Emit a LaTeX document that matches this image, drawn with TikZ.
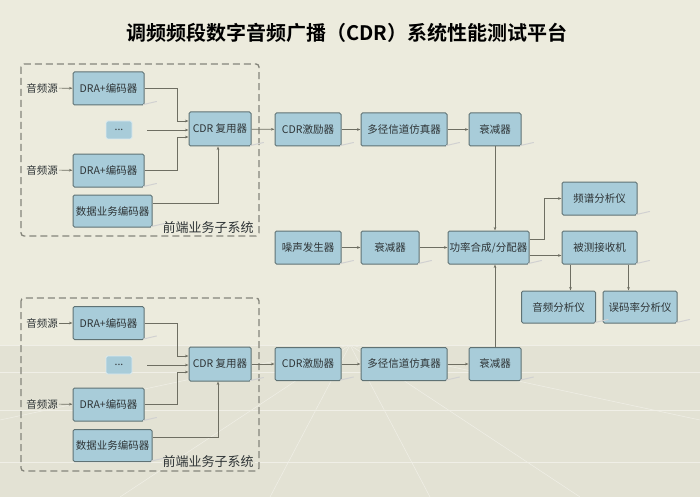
\documentclass[tikz,border=0pt]{standalone}
\usepackage{fontspec}
\setmainfont{Noto Sans CJK SC}
\newfontfamily\cjkbold{Noto Sans CJK SC}[BoldFont={* Bold}]
\usetikzlibrary{arrows.meta,calc}
\definecolor{bgtop}{HTML}{ECEBDD}
\definecolor{bgbot}{HTML}{E3E2D4}
\definecolor{boxfill}{HTML}{A8CCD9}
\definecolor{boxline}{HTML}{5F7274}
\definecolor{conn}{HTML}{6E6E62}
\definecolor{txt}{HTML}{2E3436}
\definecolor{frame}{HTML}{85857B}
\tikzset{
  blk/.style={draw=boxline, line width=1pt, fill=boxfill, rounded corners=1.5pt,
    minimum height=33pt, inner sep=1pt, font=\fontsize{10.5}{12}\selectfont, text=txt},
  srclabel/.style={font=\fontsize{10.5}{12}\selectfont, text=txt, inner sep=1pt},
  link/.style={draw=conn, line width=0.7pt, -{Stealth[length=3.5pt,width=2.6pt]}},
  subframe/.style={draw=frame, line width=1.3pt, dash pattern=on 7pt off 4pt, rounded corners=3pt},
  sublabel/.style={font=\fontsize{13}{15}\selectfont, text=txt, fill=bgtop, inner sep=1pt},
  shadowline/.style={draw=black!18, line width=1pt, line cap=round}
}
\begin{document}
\begin{tikzpicture}[x=1pt,y=-1pt]
\useasboundingbox (0,0) rectangle (700,497);
% background
\fill[bgtop] (0,0) rectangle (700,497);
\fill[bgbot] (0,345) rectangle (700,497);
\begin{scope}[draw=white!45!bgbot, line width=0.5pt]
  \draw (0,345) -- (700,345);
  \draw (0,372) -- (700,372);
  \draw (0,410) -- (700,410);
  \draw (0,462) -- (700,462);
  \draw (350,345) -- (0,420);
  \draw (350,345) -- (700,420);
  \draw (350,345) -- (120,497);
  \draw (350,345) -- (580,497);
  \draw (350,345) -- (270,497);
  \draw (350,345) -- (430,497);
\end{scope}

% title
\node (title) at (347,33) {\cjkbold\bfseries\fontsize{20}{24}\selectfont 调频频段数字音频广播（CDR）系统性能测试平台};

% ===== upper front-end subsystem =====
\draw[subframe] (21,64) rectangle (259,236);
\node[srclabel] (s1) at (42,88) {音频源};
\node[blk, minimum width=71pt] (d1) at (108.5,88.5) {DRA+编码器};
\node[blk, minimum width=26pt, minimum height=18pt, draw=white!60!boxfill, line width=0.8pt] (p1) at (119,130) {...};
\node[srclabel] (s2) at (42,170) {音频源};
\node[blk, minimum width=71pt] (d2) at (108.5,170.5) {DRA+编码器};
\node[blk, minimum width=79pt, minimum height=32pt] (e1) at (112.5,211) {数据业务编码器};
\node[blk, minimum width=62pt, minimum height=34pt] (m1) at (220,129) {CDR 复用器};
\node[sublabel] (l1) at (208,228) {前端业务子系统};

% ===== lower front-end subsystem =====
\draw[subframe] (21,298) rectangle (259,471);
\node[srclabel] (s3) at (42,323) {音频源};
\node[blk, minimum width=71pt] (d3) at (108.5,323) {DRA+编码器};
\node[blk, minimum width=26pt, minimum height=18pt, draw=white!60!boxfill, line width=0.8pt] (p2) at (119,365) {...};
\node[srclabel] (s4) at (42,404) {音频源};
\node[blk, minimum width=71pt] (d4) at (108.5,404.5) {DRA+编码器};
\node[blk, minimum width=79pt, minimum height=32pt] (e2) at (112.5,445.5) {数据业务编码器};
\node[blk, minimum width=62pt, minimum height=34pt] (m2) at (220,364) {CDR 复用器};
\node[sublabel, fill=bgbot] (l2) at (208,462) {前端业务子系统};

% ===== chains =====
\node[blk, minimum width=66pt] (x1) at (308,129.5) {CDR激励器};
\node[blk, minimum width=86pt] (c1) at (404,129.5) {多径信道仿真器};
\node[blk, minimum width=52pt] (a1) at (495,129.5) {衰减器};

\node[blk, minimum width=66pt] (x2) at (308,364) {CDR激励器};
\node[blk, minimum width=86pt] (c2) at (404,364) {多径信道仿真器};
\node[blk, minimum width=52pt] (a2) at (495,364) {衰减器};

\node[blk, minimum width=66pt] (ng) at (308,247.5) {噪声发生器};
\node[blk, minimum width=58pt] (a3) at (390,247.5) {衰减器};
\node[blk, minimum width=81pt] (pc) at (488.5,247.5) {功率合成/分配器};
\node[blk, minimum width=75pt] (sp) at (599.5,198.5) {频谱分析仪};
\node[blk, minimum width=75pt] (rx) at (599.5,247.5) {被测接收机};
\node[blk, minimum width=74pt, minimum height=32pt] (au) at (558.5,307) {音频分析仪};
\node[blk, minimum width=74pt, minimum height=32pt] (be) at (640,307) {误码率分析仪};

% shadows
\foreach \n in {d1,d2,e1,m1,d3,d4,e2,m2,x1,c1,a1,x2,c2,a2,ng,a3,pc,sp,rx,au,be}{
  \draw[shadowline] ($(\n.south east)+(-1,-1)$) -- ++(13,-3);
}

% ===== connectors upper =====
\draw[link] (s1) -- (d1);
\draw[link] (s2) -- (d2);
\draw[link] (d1.east) -- ++(33,0) |- ($(m1.west)+(0,-8)$);
\draw[link] ($(p1.east)+(15,0)$) coordinate (q1) -- (q1 -| m1.west);
\draw[link] (d2.east) -- ++(33,0) |- ($(m1.west)+(0,8)$);
\draw[link] ($(e1.east)+(0,-8)$) -| ($(m1.south)+(-2,0)$);
\draw[link] (m1) -- (x1);
\draw[link] (x1) -- (c1);
\draw[link] (c1) -- (a1);

% ===== connectors lower =====
\draw[link] (s3) -- (d3);
\draw[link] (s4) -- (d4);
\draw[link] (d3.east) -- ++(33,0) |- ($(m2.west)+(0,-8)$);
\draw[link] ($(p2.east)+(15,0)$) coordinate (q2) -- (q2 -| m2.west);
\draw[link] (d4.east) -- ++(33,0) |- ($(m2.west)+(0,8)$);
\draw[link] ($(e2.east)+(0,-8)$) -| ($(m2.south)+(-2,0)$);
\draw[link] (m2) -- (x2);
\draw[link] (x2) -- (c2);
\draw[link] (c2) -- (a2);

% ===== centre =====
\draw[link] (a1.south) -- (a1.south |- pc.north);
\draw[link] (a2.north) -- (a2.north |- pc.south);
\draw[link] (ng) -- (a3);
\draw[link] (a3) -- (pc);
\draw[link] ($(pc.east)+(0,-8)$) -- ++(15,0) |- (sp.west);
\draw[link] ($(pc.east)+(0,8)$) -- ($(rx.west)+(0,8)$);
\coordinate (r1) at ($(rx.south)+(-29,0)$);
\coordinate (r2) at ($(rx.south)+(29,0)$);
\draw[link] (r1) -- (r1 |- au.north);
\draw[link] (r2) -- (r2 |- be.north);
\end{tikzpicture}
\end{document}
